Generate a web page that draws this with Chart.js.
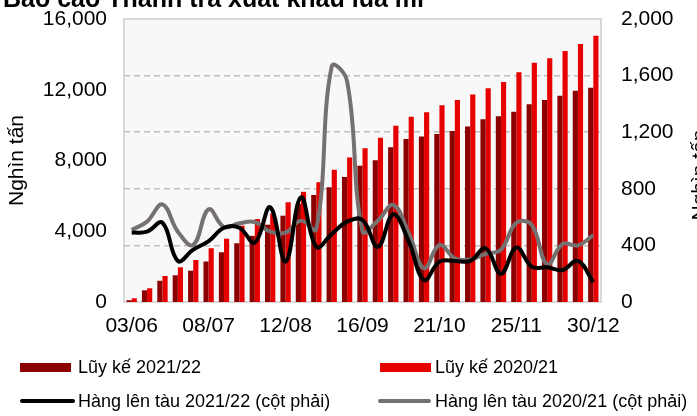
<!DOCTYPE html>
<html><head><meta charset="utf-8">
<script src="https://cdn.jsdelivr.net/npm/chart.js@4.4.1/dist/chart.umd.min.js"></script>
<style>
html,body{margin:0;padding:0;background:#fff;overflow:hidden;width:697px;height:416px;}
#wrap{position:relative;width:697px;height:416px;overflow:hidden;}
canvas{position:absolute;left:0;top:0;}
#title{position:absolute;left:3px;top:-14px;font:bold 25px/25px "Liberation Sans",Arial,sans-serif;white-space:nowrap;color:#000;}
.lg{position:absolute;font:18px/20px "Liberation Sans",Arial,sans-serif;color:#000;white-space:nowrap;}
.sw{position:absolute;}
</style></head><body>
<div id="wrap"><canvas id="c" width="697" height="416"></canvas><div id="title"></div><div id="legend"></div></div>
<script>
const titleText = 'Báo cáo Thanh tra xuất khẩu lúa mì';
const axisTitle = 'Nghìn tấn';
const weeks = ['03/06','10/06','17/06','24/06','01/07','08/07','15/07','22/07','29/07','05/08','12/08','19/08','26/08','02/09','09/09','16/09','23/09','30/09','07/10','14/10','21/10','28/10','04/11','11/11','18/11','25/11','02/12','09/12','16/12','23/12','30/12'];
const tickEvery = 5;
const leftTicks = [0, 4000, 8000, 12000, 16000];
const rightTicks = [0, 400, 800, 1200, 1600, 2000];
const cum2122 = [100, 660, 1200, 1510, 1770, 2290, 2810, 3320, 3740, 4370, 4880, 5550, 6050, 6485, 7070, 7710, 8010, 8745, 9215, 9350, 9500, 9670, 9920, 10330, 10500, 10760, 11175, 11420, 11665, 11950, 12110];
const cum2021 = [210, 775, 1470, 1960, 2375, 3040, 3580, 4315, 4690, 5000, 5640, 6230, 6770, 7470, 8170, 8690, 9280, 9960, 10470, 10725, 11130, 11420, 11730, 12080, 12440, 12985, 13530, 13775, 14190, 14590, 15060];
const ship2122 = [490, 497, 560, 290, 370, 430, 525, 525, 420, 670, 285, 740, 390, 480, 568, 580, 390, 620, 430, 155, 285, 290, 290, 380, 200, 385, 250, 245, 226, 290, 140];
const ship2021 = [509, 568, 690, 497, 403, 655, 530, 556, 565, 497, 490, 575, 515, 1665, 1560, 500, 575, 686, 490, 238, 403, 309, 300, 340, 370, 560, 545, 265, 410, 400, 473];
const seriesNames = ['Lũy kế 2021/22', 'Lũy kế 2020/21', 'Hàng lên tàu 2021/22 (cột phải)', 'Hàng lên tàu 2020/21 (cột phải)'];
const colors = ['#8B0000', '#E60000', '#000000', '#767171'];

const FONT = '"Liberation Sans", Arial, sans-serif';
Chart.defaults.font.family = FONT;
Chart.defaults.color = '#000';

document.getElementById('title').textContent = titleText;

// HTML legend
const lg = document.getElementById('legend');
const legendItems = [
  {name: seriesNames[0], color: colors[0], kind: 'box', x: 20, w: 51, tx: 78, cy: 367},
  {name: seriesNames[1], color: colors[1], kind: 'box', x: 380, w: 51, tx: 435, cy: 367},
  {name: seriesNames[2], color: colors[2], kind: 'line', x: 20, w: 55, tx: 78, cy: 401},
  {name: seriesNames[3], color: colors[3], kind: 'line', x: 378, w: 53, tx: 435, cy: 401}
];
legendItems.forEach(it => {
  const s = document.createElement('div');
  s.className = 'sw';
  s.style.left = it.x + 'px';
  s.style.width = it.w + 'px';
  s.style.background = it.color;
  if (it.kind === 'box') { s.style.top = (it.cy - 4) + 'px'; s.style.height = '9px'; }
  else { s.style.top = (it.cy - 2) + 'px'; s.style.height = '4px'; s.style.borderRadius = '2px'; }
  lg.appendChild(s);
  const t = document.createElement('div');
  t.className = 'lg';
  t.style.left = it.tx + 'px';
  t.style.top = (it.cy - 10) + 'px';
  t.textContent = it.name;
  lg.appendChild(t);
});

const plotBg = {
  id: 'plotBg',
  beforeDraw(chart) {
    const {ctx, chartArea: a} = chart;
    ctx.save();
    ctx.fillStyle = '#F8F8F8';
    ctx.fillRect(a.left, a.top, a.width, a.height);
    ctx.strokeStyle = '#D9D9D9';
    ctx.lineWidth = 2;
    ctx.strokeRect(a.left, a.top, a.width, a.height);
    ctx.restore();
  }
};
const rightTitle = {
  id: 'rightTitle',
  afterDraw(chart) {
    const ctx = chart.ctx;
    ctx.save();
    ctx.translate(700, 175);
    ctx.rotate(-Math.PI / 2);
    ctx.font = '21px ' + FONT;
    ctx.fillStyle = '#000';
    ctx.textAlign = 'center';
    ctx.textBaseline = 'middle';
    ctx.fillText(axisTitle, 0, 0);
    ctx.restore();
  }
};

const fmt = v => Number(v).toLocaleString('en-US');
const fitV = w => s => { s.width = w; s.paddingTop = 0; s.paddingBottom = 0; };

new Chart(document.getElementById('c'), {
  data: {
    labels: weeks,
    datasets: [
      {type: 'line', label: seriesNames[2], data: ship2122, yAxisID: 'y2', borderColor: colors[2], backgroundColor: colors[2], borderWidth: 4, pointRadius: 0, tension: 0.4, order: 0},
      {type: 'line', label: seriesNames[3], data: ship2021, yAxisID: 'y2', borderColor: colors[3], backgroundColor: colors[3], borderWidth: 4, pointRadius: 0, tension: 0.4, order: 1},
      {type: 'bar', label: seriesNames[0], data: cum2122, yAxisID: 'y', backgroundColor: colors[0], categoryPercentage: 0.67, barPercentage: 1.0, order: 2},
      {type: 'bar', label: seriesNames[1], data: cum2021, yAxisID: 'y', backgroundColor: colors[1], categoryPercentage: 0.67, barPercentage: 1.0, order: 2}
    ]
  },
  options: {
    responsive: false,
    animation: false,
    layout: {padding: {top: 19, left: 0, right: 0, bottom: 0}},
    plugins: {legend: {display: false}, tooltip: {enabled: false}, title: {display: false}},
    scales: {
      x: {
        type: 'category',
        offset: true,
        grid: {display: false, drawTicks: false},
        border: {display: false},
        ticks: {
          autoSkip: false, maxRotation: 0, minRotation: 0, padding: 12,
          font: {size: 21, family: FONT}, color: '#000',
          callback: (v, i) => (i % tickEvery === 0 ? weeks[i] : '')
        },
        afterFit: s => { s.height = 114; s.paddingLeft = 0; s.paddingRight = 0; }
      },
      y: {
        position: 'left',
        min: leftTicks[0], max: leftTicks[leftTicks.length - 1],
        afterBuildTicks: s => { s.ticks = leftTicks.map(v => ({value: v})); },
        grid: {display: false, drawTicks: false},
        border: {display: false},
        ticks: {padding: 17, font: {size: 21, family: FONT}, color: '#000', callback: fmt},
        title: {display: true, text: axisTitle, font: {size: 21, family: FONT}, color: '#000', padding: {top: 5, bottom: 0}},
        afterFit: fitV(124)
      },
      y2: {
        position: 'right',
        min: rightTicks[0], max: rightTicks[rightTicks.length - 1],
        afterBuildTicks: s => { s.ticks = rightTicks.map(v => ({value: v})); },
        grid: {
          drawTicks: false, drawOnChartArea: true, lineWidth: 1.5,
          color: c => (c.tick && (c.tick.value === rightTicks[0] || c.tick.value === rightTicks[rightTicks.length - 1])) ? 'rgba(0,0,0,0)' : '#BFBFBF'
        },
        border: {display: false, dash: [6, 4]},
        ticks: {padding: 20, font: {size: 21, family: FONT}, color: '#000', callback: fmt},
        afterFit: fitV(96)
      }
    }
  },
  plugins: [plotBg, rightTitle]
});
</script>
</body></html>
